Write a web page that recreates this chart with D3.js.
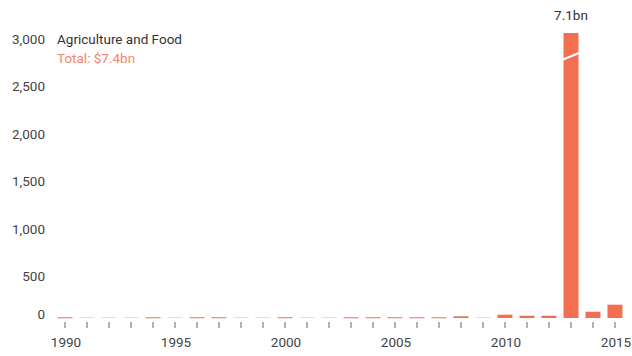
<!DOCTYPE html>
<html>
<head>
<meta charset="utf-8">
<script src="https://cdn.jsdelivr.net/npm/d3@7"></script>
<style>
  body { margin: 0; background: #fff; }
  text { font-family: Roboto, "Open Sans", sans-serif; }
</style>
</head>
<body>
<svg id="chart" width="632" height="356"></svg>
<script>
// values in $m, by year
var years = d3.range(1990, 2016);
var values = [8, 0, 0, 0, 8, 0, 8, 8, 0, 0, 8, 0, 0, 8, 8, 8, 8, 8, 18, 0, 35, 24, 24, 7100, 66, 140];
var yTicks = [0, 500, 1000, 1500, 2000, 2500, 3000];
var xLabels = [1990, 1995, 2000, 2005, 2010, 2015];
var title = 'Agriculture and Food';
var subtitle = 'Total: $7.4bn';
var capLabel = '7.1bn';

var svg = d3.select('#chart');

var x = d3.scaleBand()
    .domain(years)
    .range([54, 626])
    .paddingInner(0.318)
    .paddingOuter(0.16);

var y = d3.scaleLinear()
    .domain([0, 3000])
    .range([318, 33])
    .clamp(true);

// y labels
svg.append('g')
    .selectAll('text')
    .data(yTicks)
    .join('text')
    .attr('x', 45)
    .attr('y', d => d === 0 ? y(d) + 1 : y(d) + 10.5)
    .attr('text-anchor', 'end')
    .attr('font-size', 13.5)
    .attr('fill', '#444')
    .text(d => d3.format(',')(d));

// bars
var bars = svg.append('g');

bars.selectAll('rect')
    .data(years)
    .join('rect')
    .attr('x', (d, i) => x(d))
    .attr('width', x.bandwidth())
    .attr('y', (d, i) => values[i] === 0 ? y(0) - 1 : y(values[i]))
    .attr('height', (d, i) => values[i] === 0 ? 1 : Math.max(1, y(0) - y(values[i])))
    .attr('fill', (d, i) => values[i] === 0 ? '#fad6cb' : '#f26f51');

// break mark on the capped bar
years.forEach(function (d, i) {
    if (values[i] > y.domain()[1]) {
        var x0 = x(d), x1 = x(d) + x.bandwidth();
        svg.append('path')
            .attr('d', `M${x0 - 1},${y(2750) + 3}L${x1 + 1},${y(2750) - 4}`)
            .attr('stroke', '#fff')
            .attr('stroke-width', 2.2)
            .attr('fill', 'none');

        svg.append('text')
            .attr('x', x0 + x.bandwidth() / 2)
            .attr('y', y.range()[1] - 13)
            .attr('text-anchor', 'middle')
            .attr('font-size', 13.5)
            .attr('fill', '#333')
            .text(capLabel);
    }
});

// x ticks
svg.append('g')
    .selectAll('line')
    .data(years)
    .join('line')
    .attr('x1', d => x(d) + x.bandwidth() / 2)
    .attr('x2', d => x(d) + x.bandwidth() / 2)
    .attr('y1', 322)
    .attr('y2', 328)
    .attr('stroke', '#666')
    .attr('stroke-width', 1);

svg.append('g')
    .selectAll('text')
    .data(xLabels)
    .join('text')
    .attr('x', d => x(d) + x.bandwidth() / 2 + 1)
    .attr('y', 347)
    .attr('text-anchor', 'middle')
    .attr('font-size', 13.5)
    .attr('fill', '#444')
    .text(d => d);

// title
svg.append('text')
    .attr('x', 57)
    .attr('y', 44)
    .attr('font-size', 13.5)
    .attr('fill', '#333')
    .text(title);

svg.append('text')
    .attr('x', 57)
    .attr('y', 63)
    .attr('font-size', 13.5)
    .attr('fill', '#f4846b')
    .text(subtitle);
</script>
</body>
</html>
